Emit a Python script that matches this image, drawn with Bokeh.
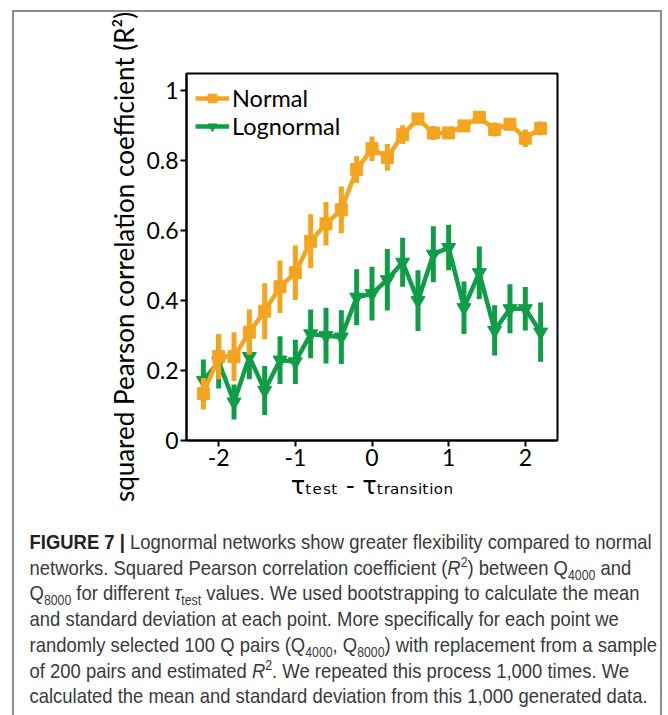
from bokeh.plotting import figure
from bokeh.models import (ColumnDataSource, Legend, LegendItem, FixedTicker,
                          Div, Range1d)
from bokeh.layouts import column
from bokeh.embed import file_html
from bokeh.resources import INLINE

# tau_test - tau_transition sample points
tau = [-2.2, -2.0, -1.8, -1.6, -1.4, -1.2, -1.0, -0.8, -0.6, -0.4, -0.2, 0.0,
       0.2, 0.4, 0.6, 0.8, 1.0, 1.2, 1.4, 1.6, 1.8, 2.0, 2.2]

# bootstrapped R^2 (mean and standard deviation), normal weights
normal_mean = [0.134, 0.24, 0.24, 0.31, 0.37, 0.44, 0.48, 0.57, 0.62, 0.66,
               0.775, 0.835, 0.81, 0.875, 0.92, 0.88, 0.88, 0.90, 0.925, 0.89,
               0.905, 0.865, 0.893]
normal_sd = [0.045, 0.065, 0.07, 0.065, 0.08, 0.075, 0.078, 0.077, 0.062,
             0.067, 0.038, 0.035, 0.038, 0.027, 0.016, 0.02, 0.018, 0.015,
             0.016, 0.02, 0.018, 0.025, 0.02]

# bootstrapped R^2 (mean and standard deviation), lognormal weights
lognormal_mean = [0.172, 0.225, 0.11, 0.24, 0.143, 0.23, 0.225, 0.305, 0.30,
                  0.296, 0.41, 0.42, 0.46, 0.51, 0.40, 0.533, 0.552, 0.38,
                  0.48, 0.315, 0.377, 0.377, 0.31]
lognormal_sd = [0.06, 0.076, 0.05, 0.065, 0.07, 0.068, 0.063, 0.07, 0.08,
                0.077, 0.08, 0.077, 0.088, 0.07, 0.087, 0.08, 0.065, 0.075,
                0.075, 0.072, 0.07, 0.062, 0.085]

series_names = ["Normal", "Lognormal"]
y_ticks = [0, 0.2, 0.4, 0.6, 0.8, 1]
y_tick_labels = ["0", "0.2", "0.4", "0.6", "0.8", "1"]
x_ticks = [-2, -1, 0, 1, 2]
x_tick_labels = ["-2", "-1", "0", "1", "2"]

ORANGE = "#f4a41f"
GREEN = "#0f9d48"
AX_FONT = "Lato"


def make_source(mean, sd):
    return ColumnDataSource(dict(
        x=tau, y=mean,
        lo=[m - s for m, s in zip(mean, sd)],
        hi=[m + s for m, s in zip(mean, sd)],
    ))


src_n = make_source(normal_mean, normal_sd)
src_l = make_source(lognormal_mean, lognormal_sd)

p = figure(width=650, height=495, output_backend="svg", toolbar_location=None,
           x_range=Range1d(-2.42, 2.42), y_range=Range1d(0, 1.05),
           min_border_left=172, min_border_right=103,
           min_border_top=61, min_border_bottom=67)
p.background_fill_color = "white"
p.border_fill_color = "white"
p.xgrid.visible = False
p.ygrid.visible = False
p.outline_line_color = "black"
p.outline_line_width = 2
p.outline_line_alpha = 1

for ax in (p.xaxis, p.yaxis):
    ax.axis_line_width = 2
    ax.axis_line_color = "black"
    ax.major_tick_line_width = 2
    ax.major_tick_line_color = "black"
    ax.major_tick_out = 6
    ax.major_tick_in = 0
    ax.minor_tick_line_color = None
    ax.major_label_text_font = AX_FONT
    ax.major_label_text_font_size = "23px"
    ax.major_label_text_color = "black"
    ax.major_label_standoff = 2
    ax.axis_label_text_font_style = "normal"
    ax.axis_label_text_color = "black"

p.yaxis.ticker = FixedTicker(ticks=y_ticks)
p.yaxis.major_label_overrides = dict(zip(y_ticks, y_tick_labels))
p.xaxis.ticker = FixedTicker(ticks=x_ticks)
p.xaxis.major_label_overrides = dict(zip(x_ticks, x_tick_labels))

p.yaxis.axis_label = "squared Pearson correlation coefficient (R\u00b2)"
p.yaxis.axis_label_text_font = AX_FONT
p.yaxis.axis_label_text_font_size = "26px"
p.yaxis.axis_label_standoff = 3

# tau_test - tau_transition, subscripts as unicode subscript letters
p.xaxis.axis_label = ("\u03c4\u209c\u2091\u209b\u209c - "
                      "\u03c4\u209c\u1d63\u2090\u2099\u209b\u1d62\u209c\u1d62\u2092\u2099")
p.xaxis.axis_label_text_font = "DejaVu Sans"
p.xaxis.axis_label_text_font_size = "24px"
p.xaxis.axis_label_standoff = 3

# lognormal drawn first so the normal series sits on top
l_err = p.segment(x0="x", y0="lo", x1="x", y1="hi", source=src_l,
                  line_color=GREEN, line_width=5)
l_line = p.line("x", "y", source=src_l, line_color=GREEN, line_width=4.5)
l_mark = p.scatter("x", "y", source=src_l, marker="inverted_triangle",
                   size=14, fill_color=GREEN, line_color=GREEN)

n_err = p.segment(x0="x", y0="lo", x1="x", y1="hi", source=src_n,
                  line_color=ORANGE, line_width=5)
n_line = p.line("x", "y", source=src_n, line_color=ORANGE, line_width=4.5)
n_mark = p.scatter("x", "y", source=src_n, marker="square", size=12,
                   fill_color=ORANGE, line_color=ORANGE)

legend = Legend(items=[
    LegendItem(label=series_names[0], renderers=[n_line, n_mark]),
    LegendItem(label=series_names[1], renderers=[l_line, l_mark]),
], location=(9, 300))
legend.margin = 0
legend.padding = 0
legend.spacing = -2
legend.glyph_width = 34
legend.glyph_height = 22
legend.label_height = 22
legend.label_standoff = 3
legend.label_text_font = AX_FONT
legend.label_text_font_size = "23.5px"
legend.label_text_line_height = 0.9
legend.label_text_color = "black"
legend.background_fill_alpha = 0
legend.border_line_color = None
p.add_layout(legend)

SUB = 'style="font-size:14px;line-height:0"'
caption_html = (
    '<div style="font-family: \'Liberation Sans\', Arial, sans-serif;'
    ' font-size: 21px; line-height: 25.7px; color: #3a3a3a;'
    ' white-space: nowrap; padding: 17px 0 0 12px;'
    ' transform: scaleX(0.878); transform-origin: 0 0;">'
    '<b style="color:#222">FIGURE 7 |</b> Lognormal networks show greater flexibility compared to normal<br>'
    f'networks. Squared Pearson correlation coefficient (<i>R</i><sup {SUB}>2</sup>) between '
    f'Q<sub {SUB}>4000</sub> and<br>'
    f'Q<sub {SUB}>8000</sub> for different <i>\u03c4</i><sub {SUB}>test</sub>'
    ' values. We used bootstrapping to calculate the mean<br>'
    'and standard deviation at each point. More specifically for each point we<br>'
    f'randomly selected 100 Q pairs (Q<sub {SUB}>4000</sub>, '
    f'Q<sub {SUB}>8000</sub>) with replacement from a sample<br>'
    f'of 200 pairs and estimated <i>R</i><sup {SUB}>2</sup>. We repeated this process 1,000 times. We<br>'
    'calculated the mean and standard deviation from this 1,000 generated data.'
    '</div>'
)
cap = Div(text=caption_html, width=650, height=230,
          styles={"overflow": "hidden"})

layout = column(p, cap, margin=(10, 0, 0, 12), width=650,
                styles={"border": "2px solid #8c8c8c", "border-bottom": "none",
                        "background": "white"})

open("out.html", "w").write(file_html(layout, INLINE))
